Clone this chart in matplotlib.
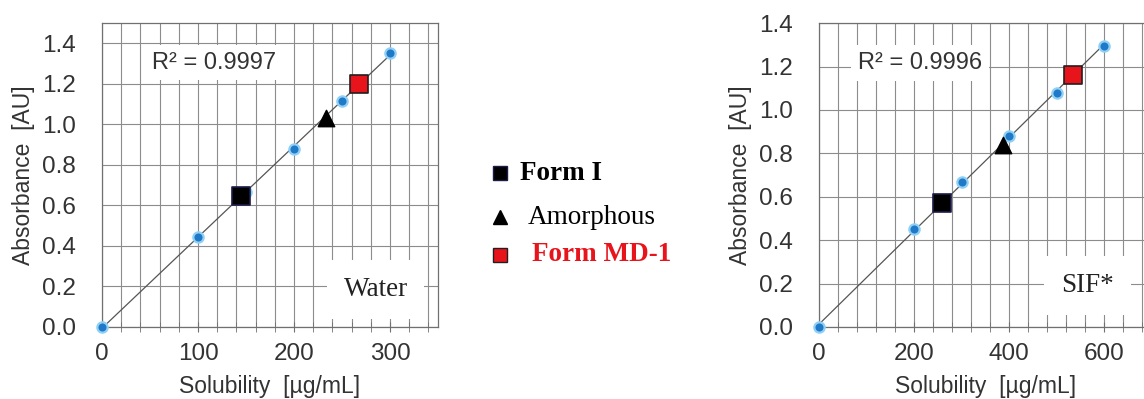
import numpy as np
import matplotlib.pyplot as plt
from matplotlib.ticker import MultipleLocator

# Calibration standards (solubility in ug/mL vs absorbance)
water_std_x = [0, 100, 150, 200, 250, 300]
water_std_y = [0.0, 0.445, 0.665, 0.88, 1.115, 1.355]
sif_std_x = [0, 200, 300, 400, 500, 600]
sif_std_y = [0.0, 0.45, 0.67, 0.88, 1.08, 1.295]

# Measured forms: (solubility, absorbance)
water_form1 = (145, 0.645)
water_amorph = (233, 1.03)
water_md1 = (268, 1.20)
sif_form1 = (258, 0.57)
sif_amorph = (387, 0.84)
sif_md1 = (535, 1.16)

water_r2 = "R² = 0.9997"
sif_r2 = "R² = 0.9996"

plt.rcParams['font.family'] = ['Liberation Sans', 'DejaVu Sans']

fig = plt.figure(figsize=(11.44, 3.99), dpi=100)
ax1 = fig.add_axes([0.0892, 0.1805, 0.2937, 0.7615])
ax2 = fig.add_axes([0.7159, 0.1805, 0.2907, 0.7615])

GRID = '#8c8c8c'
BLUE = '#1f78c8'


def draw_panel(ax, xs, ys, form1, amorph, md1, r2, r2_pos, medium, medium_pos,
               xlim, ylim, xmajor, xminor):
    slope = np.polyfit(xs, ys, 1)
    fit_x = np.array([0, xs[-1]])
    ax.plot(fit_x, np.polyval(slope, fit_x), color='#555555', lw=0.9, zorder=3)
    ax.scatter(xs, ys, s=55, color=BLUE, edgecolors='#8fd0f5', linewidths=1.6,
               zorder=4, clip_on=False)
    ax.scatter(*form1, marker='s', s=160, color='black', edgecolors='#1c1c4a',
               linewidths=1.2, zorder=5)
    ax.scatter(*amorph, marker='^', s=140, color='black', zorder=5)
    ax.scatter(*md1, marker='s', s=170, color='#e8141c', edgecolors='#202020',
               linewidths=1.2, zorder=5)

    ax.set_xlim(*xlim)
    ax.set_ylim(*ylim)
    ax.xaxis.set_major_locator(MultipleLocator(xmajor))
    ax.xaxis.set_minor_locator(MultipleLocator(xminor))
    ax.yaxis.set_major_locator(MultipleLocator(0.2))
    ax.yaxis.set_major_formatter(lambda v, p: f"{v:.1f}")
    ax.grid(True, which='both', axis='x', color=GRID, lw=0.8)
    ax.grid(True, which='major', axis='y', color=GRID, lw=0.8)
    ax.set_axisbelow(True)
    for s in ax.spines.values():
        s.set_color('#707070')
        s.set_linewidth(0.9)
    ax.tick_params(axis='both', which='both', labelsize=17.5, colors='#707070',
                   labelcolor='#333333', direction='inout')
    ax.tick_params(axis='x', which='both', length=7, pad=8)
    ax.tick_params(axis='y', which='major', length=0, pad=19)
    ax.set_xlabel("Solubility  [µg/mL]", fontsize=16.5, color='#333333', labelpad=7)
    ax.set_ylabel("Absorbance  [AU]", fontsize=16.5, color='#333333', labelpad=5)

    ax.text(*r2_pos, r2, fontsize=17, color='#333333', ha='center', va='center',
            zorder=6, bbox=dict(facecolor='white', edgecolor='none', pad=5))
    ax.text(*medium_pos, medium, fontsize=19.5, family='Liberation Serif',
            color='#222222', ha='center', va='center', zorder=6,
            bbox=dict(facecolor='white', edgecolor='none', pad=12))


draw_panel(ax1, water_std_x, water_std_y, water_form1, water_amorph, water_md1,
           water_r2, (117, 1.305), "Water", (285, 0.185),
           (0, 350), (0, 1.5), 100, 20)
draw_panel(ax2, sif_std_x, sif_std_y, sif_form1, sif_amorph, sif_md1,
           sif_r2, (213, 1.215), "SIF*", (565, 0.19),
           (0, 700), (0, 1.4), 200, 40)

# Shared legend between the two panels
legend_items = [
    ('s', 'black', '#1c1c4a', "Form I", 'bold', 'black', 0.566, 0.4545),
    ('^', 'black', 'black', "Amorphous", 'normal', 'black', 0.456, 0.4615),
    ('s', '#e8141c', '#202020', "Form MD-1", 'bold', '#e8141c', 0.361, 0.465),
]
for mk, fc, ec, label, weight, tc, y, tx in legend_items:
    fig.lines.append(plt.Line2D([0.437], [y], marker=mk, markersize=10.5,
                                markerfacecolor=fc, markeredgecolor=ec,
                                transform=fig.transFigure))
    fig.text(tx, y, label, fontsize=19.5, family='Liberation Serif',
             fontweight=weight, color=tc, va='center', ha='left')

fig.savefig('out.png', dpi=100)
